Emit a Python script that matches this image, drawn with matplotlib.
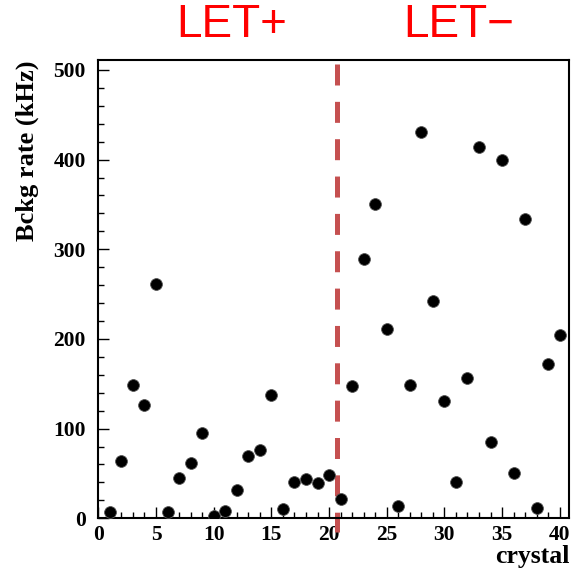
import matplotlib
matplotlib.use("Agg")
import matplotlib.pyplot as plt
from matplotlib.ticker import MultipleLocator
from matplotlib.lines import Line2D

crystal = list(range(1, 41))
rate = [7, 64, 149, 126, 261, 7, 45, 62, 95, 3,
        8, 31, 70, 76, 138, 10, 40, 44, 39, 48,
        22, 148, 289, 350, 211, 14, 149, 431, 242, 131,
        40, 156, 414, 85, 400, 51, 334, 12, 172, 204]
divider_x = 20.65
labels = ["LET+", "LET\u2212"]

fig = plt.figure(figsize=(5.74, 5.70), dpi=100)
ax = fig.add_axes([0.1713, 0.0907, 0.82, 0.804])
ax.set_xlim(0, 40.8)
ax.set_ylim(0, 511)

ax.plot(crystal, rate, 'o', color='black', markersize=8.5,
        markeredgecolor='#555555', markeredgewidth=0.6, zorder=3)

ax.add_line(Line2D([divider_x, divider_x], [507, -15.5], color='#c55050',
                   linewidth=3.6, dashes=(4.2, 3.27), clip_on=False, zorder=2))

serif = 'Liberation Serif'
ax.xaxis.set_major_locator(MultipleLocator(5))
ax.xaxis.set_minor_locator(MultipleLocator(1))
ax.yaxis.set_major_locator(MultipleLocator(100))
ax.yaxis.set_minor_locator(MultipleLocator(20))
ax.tick_params(which='both', direction='in', top=False, right=False, width=1.0)
ax.tick_params(which='major', length=8)
ax.tick_params(which='minor', length=4)
ax.tick_params(axis='x', which='major', pad=5)
ax.tick_params(axis='y', which='major', pad=9)
for lab in ax.get_xticklabels() + ax.get_yticklabels():
    lab.set_fontfamily(serif)
    lab.set_fontweight('bold')
    lab.set_fontsize(15.5)
for s in ax.spines.values():
    s.set_linewidth(1.5)

ax.set_ylabel('Bckg rate (kHz)', fontfamily=serif, fontweight='bold',
              fontsize=19, loc='top', labelpad=10)
ax.set_xlabel('crystal', fontfamily=serif, fontweight='bold',
              fontsize=18.5, loc='right', labelpad=0)

fig.text(232/574, 1 - 25/570, labels[0], color='red', fontsize=33,
         fontfamily='Liberation Sans', ha='center', va='center')
fig.text(459/574, 1 - 25/570, labels[1], color='red', fontsize=33,
         fontfamily='Liberation Sans', ha='center', va='center')

fig.savefig('out.png', dpi=100, facecolor='white')
